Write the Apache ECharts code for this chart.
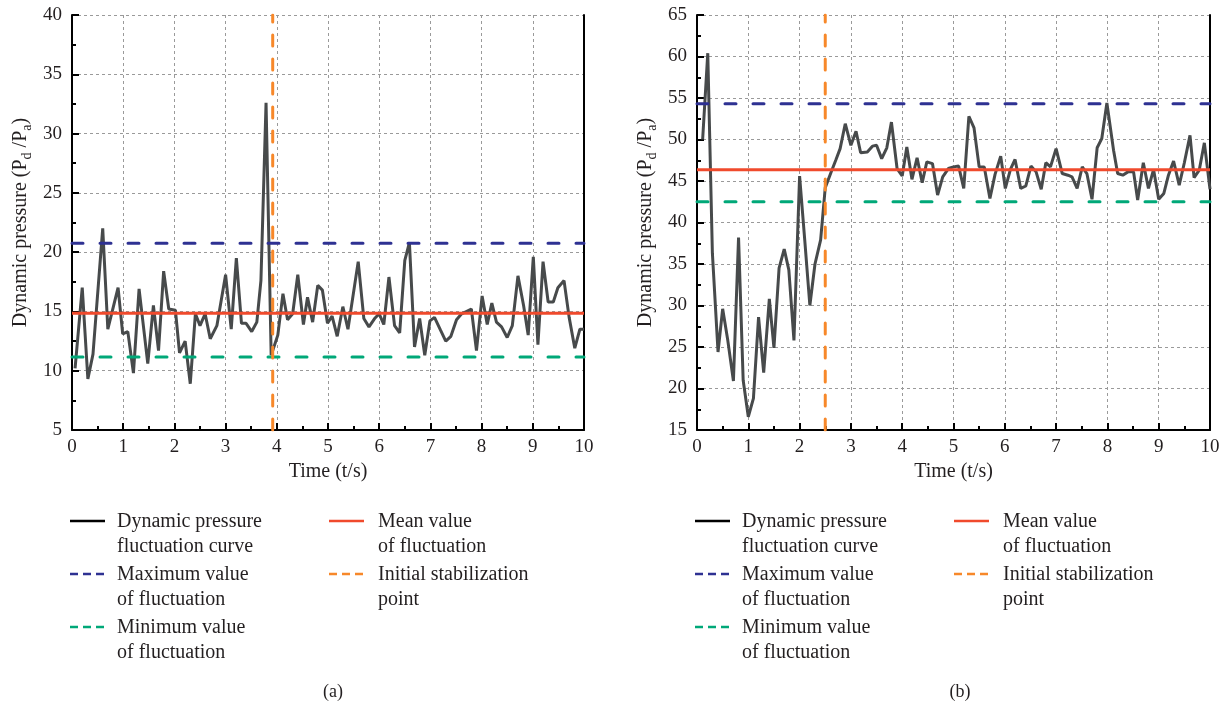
<!DOCTYPE html>
<html><head><meta charset="utf-8">
<script src="https://cdn.jsdelivr.net/npm/echarts@6/dist/echarts.min.js"></script>
<style>html,body{margin:0;padding:0;background:#fff}#c{width:1229px;height:703px}</style>
</head><body><div id="c"></div><script>
// ---------- DATA ----------
const timeA = [0.06,0.2,0.31,0.41,0.6,0.7,0.9,0.99,1.09,1.2,1.31,1.48,1.59,1.69,1.79,1.89,2.02,2.1,2.21,2.31,2.41,2.5,2.6,2.7,2.83,3.0,3.11,3.21,3.31,3.4,3.51,3.61,3.69,3.79,3.89,4.02,4.12,4.21,4.31,4.41,4.52,4.6,4.7,4.8,4.89,4.99,5.08,5.18,5.29,5.39,5.59,5.7,5.8,5.91,6.0,6.09,6.19,6.3,6.4,6.5,6.59,6.69,6.79,6.89,6.99,7.08,7.2,7.3,7.4,7.51,7.61,7.8,7.9,8.01,8.11,8.2,8.29,8.39,8.5,8.6,8.71,8.82,8.91,9.01,9.1,9.2,9.3,9.4,9.49,9.61,9.71,9.82,9.92,10.0];
const pressureA = [10.2,17.0,9.3,11.4,22.0,13.5,17.0,13.1,13.3,9.8,16.9,10.6,15.5,11.7,18.4,15.2,15.1,11.5,12.5,8.9,14.8,13.8,14.8,12.7,13.8,18.1,13.5,19.5,14.0,14.0,13.3,14.1,17.6,32.6,11.3,13.0,16.5,14.3,14.8,18.1,13.9,16.2,14.1,17.2,16.8,14.0,14.6,12.9,15.4,13.5,19.2,14.4,13.7,14.4,14.8,13.9,17.9,13.8,13.2,19.3,20.8,12.0,14.4,11.3,14.2,14.5,13.4,12.5,12.9,14.3,14.8,15.2,11.7,16.3,13.9,15.7,14.1,13.7,12.8,13.8,18.0,15.5,13.0,19.6,12.2,19.2,15.8,15.8,17.0,17.6,14.5,11.9,13.5,13.5];
const timeB = [0.11,0.21,0.3,0.41,0.5,0.6,0.71,0.81,0.9,1.0,1.1,1.2,1.3,1.41,1.5,1.6,1.7,1.79,1.89,2.0,2.1,2.2,2.3,2.41,2.5,2.61,2.71,2.79,2.89,3.0,3.1,3.19,3.32,3.42,3.5,3.6,3.7,3.79,3.9,4.0,4.09,4.19,4.29,4.39,4.48,4.59,4.69,4.79,4.9,5.0,5.1,5.2,5.3,5.4,5.5,5.6,5.71,5.81,5.92,6.01,6.11,6.2,6.31,6.41,6.51,6.61,6.71,6.8,6.89,7.0,7.12,7.23,7.31,7.41,7.51,7.6,7.7,7.8,7.89,7.99,8.12,8.2,8.3,8.4,8.51,8.59,8.7,8.8,8.9,9.0,9.1,9.19,9.29,9.4,9.5,9.61,9.69,9.79,9.89,10.0];
const pressureB = [50.0,60.4,36.3,24.4,29.6,25.8,20.9,38.2,21.0,16.6,18.8,28.6,21.9,30.8,24.9,34.5,36.8,34.3,25.8,45.6,37.9,30.0,35.0,37.9,44.2,46.0,47.6,48.9,51.9,49.3,51.0,48.4,48.5,49.2,49.3,47.7,49.0,52.1,46.5,45.6,49.1,45.2,47.8,44.8,47.3,47.1,43.3,45.5,46.5,46.7,46.8,44.1,52.8,51.4,46.7,46.7,42.9,45.8,48.0,44.1,46.4,47.6,44.1,44.4,46.8,46.1,44.0,47.2,46.7,48.9,45.9,45.7,45.5,44.1,46.7,45.9,42.8,49.0,50.1,54.4,48.7,45.9,45.7,46.1,46.1,42.7,47.2,44.1,46.4,42.8,43.5,45.7,47.4,44.5,47.2,50.5,45.4,46.3,49.6,44.0];
// reference levels: [maximum, mean, minimum]
const levelsA = [20.75, 14.85, 11.15];
const levelsB = [54.3, 46.35, 42.5];
const stabilizationA = 3.92;
const stabilizationB = 2.5;
// axis ranges [min, max, major interval, minor interval]
const xRange = [0, 10, 1, 0.5];
const yRangeA = [5, 40, 5, 2.5];
const yRangeB = [15, 65, 5, 2.5];
const legendNames = ['Dynamic pressure\nfluctuation curve','Maximum value\nof fluctuation','Minimum value\nof fluctuation','Mean value\nof fluctuation','Initial stabilization\npoint'];
const captions = ['(a)','(b)'];

// ---------- STYLE ----------
const FONT = '"Liberation Serif","DejaVu Serif",serif';
const C = {curve:'#474a4b', max:'#2e3192', mean:'#f04a2c', min:'#00a878', stab:'#f7882a', text:'#231f20'};
const DASH_H = [11,17];
const DASH_V = [11,13];

const zip = (xs, ys) => xs.map((x,i)=>[x, ys[i]]);

function xAxisFor(gi){
  return {
    type:'value', gridIndex:gi, position:'bottom', min:xRange[0], max:xRange[1], interval:xRange[2],
    name:'Time (t/s)', nameLocation:'middle', nameGap:32,
    nameTextStyle:{fontFamily:FONT, fontSize:20, color:C.text},
    axisLine:{show:true, onZero:false, lineStyle:{color:'#000', width:2}},
    axisTick:{show:true, inside:true, length:7, lineStyle:{color:'#000', width:2}},
    axisLabel:{fontFamily:FONT, fontSize:19, color:C.text, margin:8},
    splitLine:{show:true, lineStyle:{color:'#9a9a9a', type:[3,3], width:1}}
  };
}
function xMinorFor(gi){
  return {type:'value', gridIndex:gi, position:'bottom', min:xRange[0], max:xRange[1], interval:xRange[3],
    axisLine:{show:false, onZero:false}, axisLabel:{show:false}, splitLine:{show:false},
    axisTick:{show:true, inside:true, length:4, lineStyle:{color:'#000', width:2}}};
}
function yAxisFor(gi, r){
  return {
    type:'value', gridIndex:gi, position:'left', min:r[0], max:r[1], interval:r[2],
    name:'{n|Dynamic pressure (P}{s|d}{n| /P}{s|a}{n|)}', nameLocation:'middle', nameGap:38,
    nameTextStyle:{fontFamily:FONT, color:C.text, rich:{
      n:{fontFamily:FONT, fontSize:20, lineHeight:26, color:C.text},
      s:{fontFamily:FONT, fontSize:14, lineHeight:12, verticalAlign:'bottom', color:C.text}
    }},
    axisLine:{show:true, onZero:false, lineStyle:{color:'#000', width:2}},
    axisTick:{show:true, inside:true, length:7, lineStyle:{color:'#000', width:2}},
    axisLabel:{fontFamily:FONT, fontSize:19, color:C.text, margin:10},
    splitLine:{show:true, lineStyle:{color:'#9a9a9a', type:[3,3], width:1}}
  };
}
function yMinorFor(gi, r){
  return {type:'value', gridIndex:gi, position:'left', min:r[0], max:r[1], interval:r[3],
    axisLine:{show:false, onZero:false}, axisLabel:{show:false}, splitLine:{show:false},
    axisTick:{show:true, inside:true, length:4, lineStyle:{color:'#000', width:2}}};
}
function rightBorder(gi, r){
  return {type:'value', gridIndex:gi, position:'right', min:r[0], max:r[1], interval:r[2],
    axisLine:{show:true, onZero:false, lineStyle:{color:'#000', width:2}},
    axisTick:{show:false}, axisLabel:{show:false}, splitLine:{show:false}};
}
function seriesFor(gi, yi, t, p, lv, stab, r){
  const base = {type:'line', xAxisIndex:gi*2, yAxisIndex:yi, symbol:'none', showSymbol:false, animation:false, silent:true};
  return [
    Object.assign({}, base, {name:legendNames[0], data:zip(t,p), lineStyle:{color:C.curve, width:3}, z:3}),
    Object.assign({}, base, {name:legendNames[1], data:[[xRange[0],lv[0]],[xRange[1],lv[0]]], lineStyle:{color:C.max, width:3, type:DASH_H, cap:'round'}, z:4}),
    Object.assign({}, base, {name:legendNames[3], data:[[xRange[0],lv[1]],[xRange[1],lv[1]]], lineStyle:{color:C.mean, width:3}, z:4}),
    Object.assign({}, base, {name:legendNames[2], data:[[xRange[0],lv[2]],[xRange[1],lv[2]]], lineStyle:{color:C.min, width:3, type:DASH_H, cap:'round'}, z:4}),
    Object.assign({}, base, {name:legendNames[4], data:[[stab,r[0]],[stab,r[1]]], lineStyle:{color:C.stab, width:3, type:DASH_V, cap:'round'}, z:5})
  ];
}
function legendGraphic(ox){
  const items = [
    {x:70, tx:117, y:521, color:'#000', dash:null, text:legendNames[0]},
    {x:70, tx:117, y:574, color:C.max, dash:[8,5], text:legendNames[1]},
    {x:70, tx:117, y:627, color:C.min, dash:[8,5], text:legendNames[2]},
    {x:329, tx:378, y:521, color:C.mean, dash:null, text:legendNames[3]},
    {x:329, tx:378, y:574, color:C.stab, dash:[8,5], text:legendNames[4]}
  ];
  const out = [];
  items.forEach(it=>{
    out.push({type:'line', shape:{x1:it.x+ox, y1:it.y, x2:it.x+35+ox, y2:it.y},
      style:{stroke:it.color, lineWidth:2.5, lineDash:it.dash||null}, silent:true});
    out.push({type:'text', x:it.tx+ox, y:it.y-12.5,
      style:{text:it.text, font:'20px '+FONT, fill:C.text, lineHeight:25.5, verticalAlign:'top'}, silent:true});
  });
  return out;
}

const chart = echarts.init(document.getElementById('c'), null, {renderer:'canvas'});
chart.setOption({
  backgroundColor:'#fff',
  animation:false,
  grid:[
    {left:72, top:15, width:512, height:415},
    {left:697, top:15, width:513, height:415}
  ],
  xAxis:[xAxisFor(0), xMinorFor(0), xAxisFor(1), xMinorFor(1)],
  yAxis:[yAxisFor(0,yRangeA), yMinorFor(0,yRangeA), rightBorder(0,yRangeA),
         yAxisFor(1,yRangeB), yMinorFor(1,yRangeB), rightBorder(1,yRangeB)],
  title:[
    {text:captions[0], left:328, top:678, textAlign:'center', textStyle:{fontFamily:FONT, fontSize:18, fontWeight:'normal', color:C.text}},
    {text:captions[1], left:955, top:678, textAlign:'center', textStyle:{fontFamily:FONT, fontSize:18, fontWeight:'normal', color:C.text}}
  ],
  series:[].concat(
    seriesFor(0, 0, timeA, pressureA, levelsA, stabilizationA, yRangeA),
    seriesFor(1, 3, timeB, pressureB, levelsB, stabilizationB, yRangeB)
  ),
  graphic: legendGraphic(0).concat(legendGraphic(625))
});
</script></body></html>
